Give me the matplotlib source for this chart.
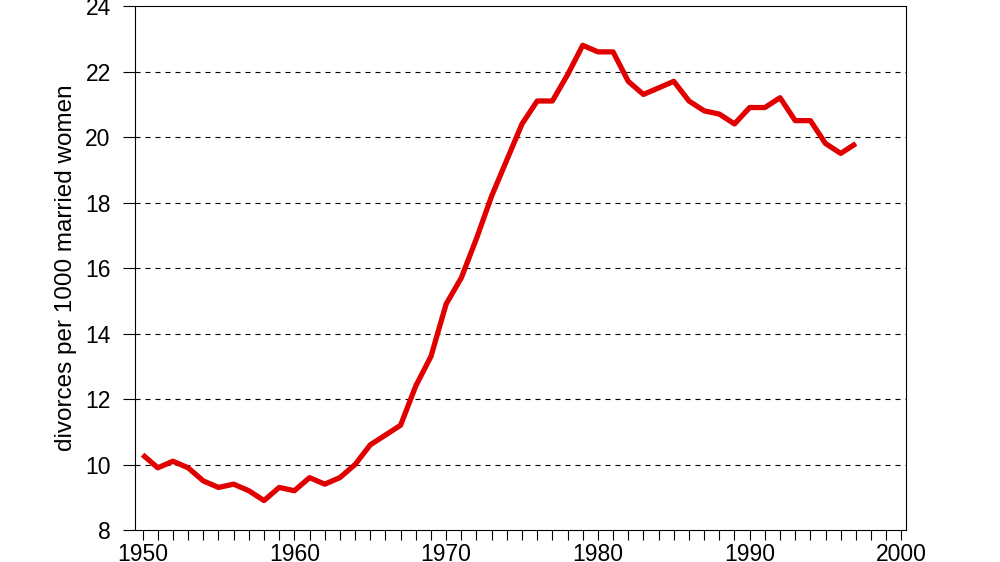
import matplotlib
matplotlib.use("Agg")
import matplotlib.pyplot as plt
from matplotlib.ticker import MultipleLocator

years = list(range(1950, 1998))
divorce_rate = [10.3, 9.9, 10.1, 9.9, 9.5, 9.3, 9.4, 9.2, 8.9, 9.3,
                9.2, 9.6, 9.4, 9.6, 10.0, 10.6, 10.9, 11.2, 12.4, 13.3,
                14.9, 15.7, 16.9, 18.2, 19.3, 20.4, 21.1, 21.1, 21.9, 22.8,
                22.6, 22.6, 21.7, 21.3, 21.5, 21.7, 21.1, 20.8, 20.7, 20.4,
                20.9, 20.9, 21.2, 20.5, 20.5, 19.8, 19.5, 19.8]
y_ticks = [8, 10, 12, 14, 16, 18, 20, 22, 24]
x_ticks = [1950, 1960, 1970, 1980, 1990, 2000]
y_label = "divorces per 1000 married women"

plt.rcParams['font.family'] = ['Liberation Sans', 'DejaVu Sans']

fig = plt.figure(figsize=(10, 5.62), dpi=100)
ax = fig.add_axes([0.135, 0.0569, 0.771, 0.9324])

ax.set_xlim(1949.5, 2000.3)
ax.set_ylim(8, 24)

for yv in y_ticks[1:-1]:
    ax.axhline(yv, color='black', lw=0.8, linestyle=(0, (4.5, 4.5)), zorder=1)

ax.plot(years, divorce_rate, color='#e00000', lw=3.8, solid_joinstyle='round',
        solid_capstyle='butt', zorder=3)

ax.set_xticks(x_ticks)
ax.xaxis.set_minor_locator(MultipleLocator(1))
ax.set_yticks(y_ticks)
ax.tick_params(axis='x', which='both', direction='out', length=7.5, width=0.8,
               labelsize=16.5, pad=2, color='black')
ax.tick_params(axis='y', which='major', direction='out', length=8.5, width=0.8,
               labelsize=16.5, pad=9, color='black')
ax.set_ylabel(y_label, fontsize=17.5, labelpad=6)

for s in ax.spines.values():
    s.set_linewidth(0.8)
    s.set_color('black')

fig.savefig("out.png", dpi=100, facecolor='white')
